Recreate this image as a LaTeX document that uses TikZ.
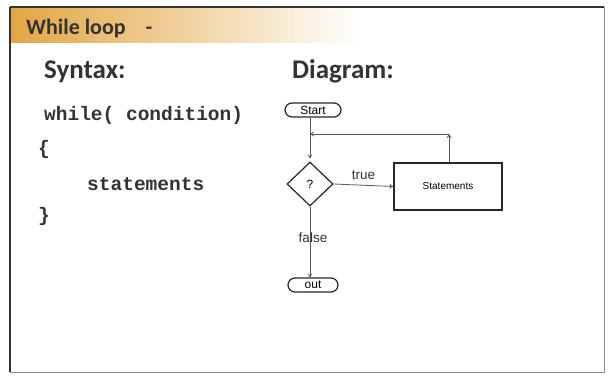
\documentclass[tikz,border=0pt]{standalone}
\usepackage{fontspec}
\setmainfont{Liberation Sans}
\setsansfont{Carlito}
\setmonofont{Liberation Mono}
\usepackage{xcolor}
\usetikzlibrary{positioning, arrows.meta, calc, shapes.geometric}
\definecolor{titlegold}{HTML}{E2A643}
\definecolor{darktext}{HTML}{333333}
\definecolor{linegray}{HTML}{585858}

\tikzset{
  heading/.style={anchor=base west, inner sep=0pt, text=darktext, font=\sffamily\bfseries\fontsize{27}{27}\selectfont},
  codeline/.style={anchor=base west, text=darktext, inner sep=0pt, font=\ttfamily\bfseries\fontsize{19.5}{19.5}\selectfont},
  terminal/.style={draw=black!85, line width=1.2pt, rounded corners=7pt, minimum height=14pt,
                   inner sep=0pt, font=\fontsize{12}{12}\selectfont},
  decision/.style={draw=black!85, line width=1.2pt, diamond, minimum width=46pt, minimum height=44pt,
                   inner sep=0pt, font=\fontsize{12}{12}\selectfont},
  process/.style={draw=black!85, line width=1.2pt, minimum width=108pt, minimum height=47pt,
                  font=\fontsize{10}{10}\selectfont},
  flow/.style={draw=linegray, line width=0.8pt, -{To[length=4pt, width=5pt]}},
  flowlabel/.style={text=darktext, font=\fontsize{13.5}{13.5}\selectfont}
}

\begin{document}
\begin{tikzpicture}[x=1pt, y=-1pt]
    \useasboundingbox (0,0) rectangle (608,377);

    % slide frame and title band
    \fill[left color=titlegold, right color=titlegold!55] (10,8) rectangle (170,43);
    \fill[left color=titlegold!55, right color=white] (170,8) rectangle (360,43);
    \draw[black!45, line width=0.6pt] (10,7) rectangle (604,372);
    \draw[darktext, line width=1.2pt] (10,7) -- (604,7);
    \draw[darktext, line width=2pt] (10,7) -- (10,372);
    \node[heading, font=\sffamily\bfseries\fontsize{22}{22}\selectfont] (title) at (26,35) {While loop\hspace{20pt}-};

    \node[heading] (syntax) at (44,79) {Syntax:};
    \node[heading] (diagram) at (292,79) {Diagram:};

    % code
    \node[codeline] (code1) at (44,121) {while( condition)};
    \node[codeline] (code2) at (38,155) {\{};
    \node[codeline] (code3) at (87,190) {statements};
    \node[codeline] (code4) at (38,221) {\}};

    % flowchart
    \node[terminal, minimum width=56pt] (start) at (313,110) {Start};
    \node[decision] (check) at (310,184) {?};
    \node[process] (stmts) at (448,186.5) {Statements};
    \node[terminal, minimum width=50pt] (out) at (313,285) {out};
    \coordinate (corner) at (449,134);

    \draw[flow, shorten >=3pt] (start.south -| check.north) -- (check.north);
    \draw[flow] (check.east) -- node[flowlabel, above=2pt] {true} (stmts.west);
    \draw[flow] (stmts.north -| corner) -- (corner);
    \draw[flow] (corner) -- (corner -| check.north);
    \draw[flow] (check.south) -- node[flowlabel, pos=0.44, xshift=3pt] {false} (check.south |- out.north);
\end{tikzpicture}
\end{document}
